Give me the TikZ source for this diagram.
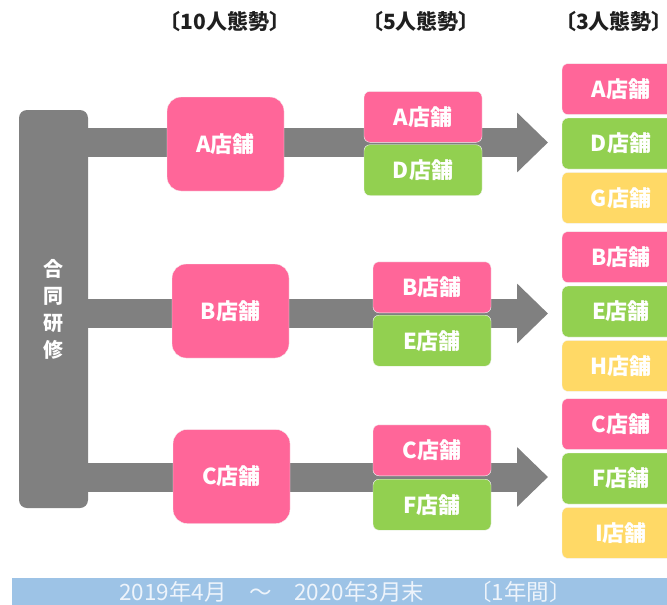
\documentclass[tikz,border=0pt]{standalone}
\usepackage{fontspec}
\setmainfont{Noto Sans CJK JP}
\usetikzlibrary{arrows.meta,positioning}

\definecolor{shoppink}{HTML}{FF6699}
\definecolor{shopgreen}{HTML}{92D050}
\definecolor{shopyellow}{HTML}{FFD966}
\definecolor{trunkgray}{HTML}{808080}
\definecolor{periodblue}{HTML}{9DC3E6}
\definecolor{periodtext}{HTML}{EEF4FB}

\begin{document}
\begin{tikzpicture}[%
      x=1pt, y=-1pt,
      shop/.style={rounded corners=6pt, draw=white!60!black!10, line width=0.4pt,
        text=white, font=\bfseries\fontsize{22}{22}\selectfont,
        minimum width=118pt, minimum height=51pt, inner sep=0pt},
      bigshop/.style={shop, rounded corners=14pt, minimum width=117pt, minimum height=94pt},
      pinkbox/.style={fill=shoppink},
      greenbox/.style={fill=shopgreen},
      yellowbox/.style={fill=shopyellow},
      band/.style={draw=trunkgray, line width=29pt,
        -{Triangle[length=31pt,width=58pt]}},
      header/.style={font=\bfseries\fontsize{21}{21}\selectfont, text=black!88},
      ]
      \useasboundingbox (0,0) rectangle (667,605);

      % training trunk
      \node[fill=trunkgray, rounded corners=8pt, minimum width=69pt, minimum height=398pt,
        inner sep=0pt] (kenshu) at (53.5,309) {};
      \node[text=white, align=center, font=\bfseries\fontsize{20}{27}\selectfont]
        (kenshulbl) at (kenshu.center) {合\\同\\研\\修};

      % flow bands
      \coordinate (tip1) at (548,142.5);
      \coordinate (tip2) at (548,313.5);
      \coordinate (tip3) at (548,477);
      \draw[band] (kenshu.east |- tip1) -- (tip1);
      \draw[band] (kenshu.east |- tip2) -- (tip2);
      \draw[band] (kenshu.east |- tip3) -- (tip3);

      % headers
      \node[header] (h10) at (225,22) {〔10人態勢〕};
      \node[header] (h5) at (421,22) {〔5人態勢〕};
      \node[header] (h3) at (614,22) {〔3人態勢〕};

      % 10 people
      \node[bigshop, pinkbox] (a10) at (225.5,144) {A店舗};
      \node[bigshop, pinkbox] (b10) at (230.5,311) {B店舗};
      \node[bigshop, pinkbox] (c10) at (231.5,476.5) {C店舗};

      % 5 people
      \node[shop, pinkbox, anchor=south] (a5) at (423,142.5) {A店舗};
      \node[shop, greenbox, below=2pt of a5] (d5) {D店舗};
      \node[shop, pinkbox, anchor=south] (b5) at (432,313) {B店舗};
      \node[shop, greenbox, below=2pt of b5] (e5) {E店舗};
      \node[shop, pinkbox, anchor=south] (c5) at (432,476) {C店舗};
      \node[shop, greenbox, below=3pt of c5] (f5) {F店舗};

      % 3 people
      \node[shop, greenbox] (d3) at (621,143.5) {D店舗};
      \node[shop, pinkbox, above=3pt of d3] (a3) {A店舗};
      \node[shop, yellowbox, below=3pt of d3] (g3) {G店舗};
      \node[shop, greenbox] (e3) at (621,311.5) {E店舗};
      \node[shop, pinkbox, above=3pt of e3] (b3) {B店舗};
      \node[shop, yellowbox, below=3pt of e3] (h3box) {H店舗};
      \node[shop, greenbox] (f3) at (621,478.5) {F店舗};
      \node[shop, pinkbox, above=3pt of f3] (c3) {C店舗};
      \node[shop, yellowbox, below=3pt of f3] (i3) {I店舗};

      % period
      \node[fill=periodblue, minimum width=655pt, minimum height=27pt, inner sep=0pt,
        text=periodtext, font=\fontsize{22.5}{22.5}\selectfont]
        (period) at (339.5,591.5) {\hspace{12pt}2019年4月　～　2020年3月末　　〔1年間〕};
\end{tikzpicture}
\end{document}
